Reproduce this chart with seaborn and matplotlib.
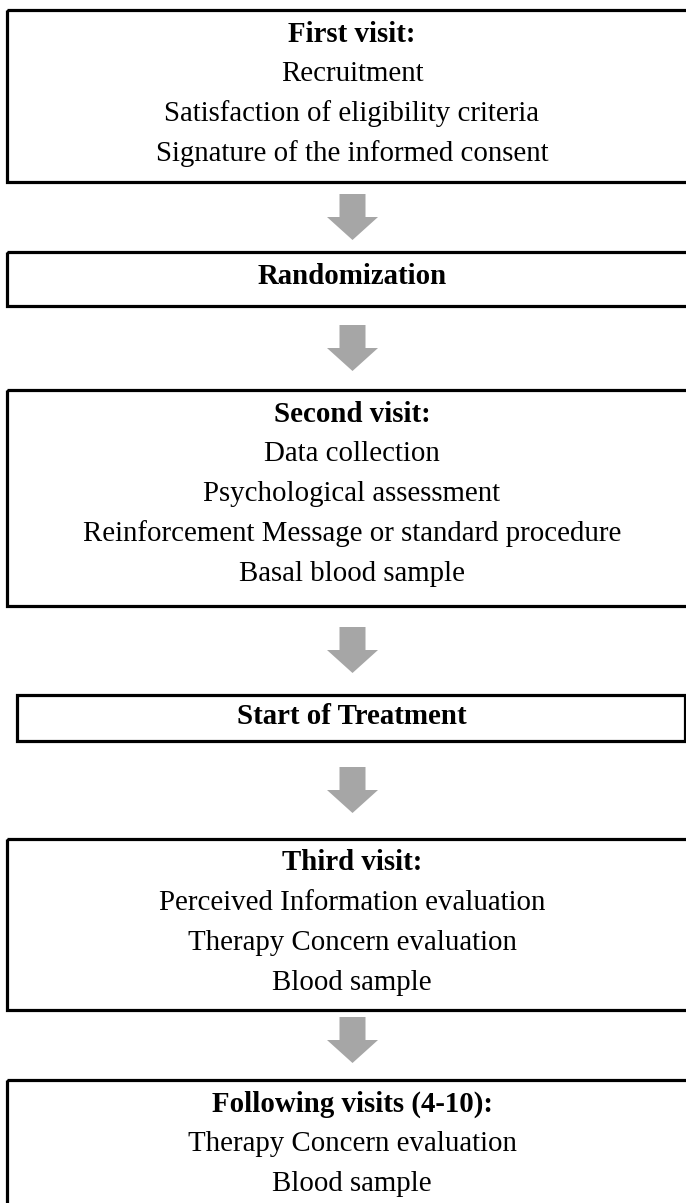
import matplotlib
matplotlib.use("Agg")
import matplotlib.pyplot as plt
import seaborn as sns
from matplotlib.patches import Rectangle, Polygon

sns.set_theme(style="white")
plt.rcParams['font.family'] = ['Liberation Serif', 'DejaVu Serif']

# Flowchart content
titles = ['First visit:', 'Randomization', 'Second visit:', 'Start of Treatment',
          'Third visit:', 'Following visits (4-10):']
details = [
    ['Recruitment', 'Satisfaction of eligibility criteria', 'Signature of the informed consent'],
    [],
    ['Data collection', 'Psychological assessment',
     'Reinforcement Message or standard procedure', 'Basal blood sample'],
    [],
    ['Perceived Information evaluation', 'Therapy Concern evaluation', 'Blood sample'],
    ['Therapy Concern evaluation', 'Blood sample'],
]

# layout in pixels (top, bottom, left, right)
box_top = [10, 252, 390, 695, 839, 1080]
box_bot = [182, 306, 606, 741, 1010, 1215]
box_left = [7, 7, 7, 17, 7, 7]
box_right = [692, 692, 692, 685, 692, 692]
arrow_top = [194, 325, 627, 767, 1017]

W, H = 686, 1203
fig = plt.figure(figsize=(W / 100, H / 100), dpi=100)
ax = fig.add_axes([0, 0, 1, 1])
ax.set_xlim(0, W)
ax.set_ylim(H, 0)
ax.axis('off')

fs = 20.8
step = 40
for i, t in enumerate(titles):
    ax.add_patch(Rectangle((box_left[i], box_top[i]), box_right[i] - box_left[i],
                           box_bot[i] - box_top[i], fill=False, ec='black', lw=2.3))
    if details[i]:
        y = box_top[i] + 24
        ax.text(352, y, t, ha='center', va='center', fontsize=fs,
                fontweight='bold', color='black')
        for line in details[i]:
            y += step
            ax.text(352, y, line, ha='center', va='center', fontsize=fs, color='black')
    else:
        ax.text(352, (box_top[i] + box_bot[i]) / 2 - 2, t, ha='center', va='center',
                fontsize=fs, fontweight='bold', color='black')

# block arrows
cx = 352.5
for a in arrow_top:
    pts = [(cx - 13, a), (cx + 13, a), (cx + 13, a + 23), (cx + 25.5, a + 23),
           (cx, a + 46), (cx - 25.5, a + 23), (cx - 13, a + 23)]
    ax.add_patch(Polygon(pts, closed=True, fc='#a6a6a6', ec='none'))

fig.savefig('out.png', dpi=100)
